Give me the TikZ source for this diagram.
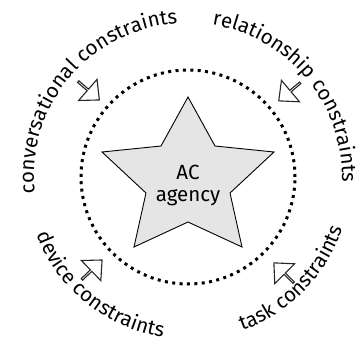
\documentclass[tikz,border=0pt]{standalone}
\usepackage{fontspec}
\setmainfont{Fira Sans}
\usetikzlibrary{decorations.text,shapes.arrows}

\newcommand{\ringfont}{\fontsize{20.5}{22}\selectfont}

\tikzset{
  starbody/.style={draw=black, fill=black!10, line width=0.9pt, line join=miter},
  dotring/.style={circle, draw, line width=3pt, dash pattern=on 3pt off 4.4pt, minimum size=214pt, inner sep=0pt},
  inarrow/.style={single arrow, draw=black!85, fill=white, line width=1.1pt, inner sep=0pt,
    minimum height=28pt, minimum width=28pt, single arrow head extend=7pt, single arrow tip angle=85},
  toptext/.style={decorate, decoration={text along path, text align=center, text={|\ringfont|#1}}},
}

\begin{document}
\begin{tikzpicture}[x=1pt, y=1pt]
  \useasboundingbox (-188,-166) rectangle (175,177);

  % dotted ring round the star
  \node[dotring] (ring) at (0,0) {};

  % the star
  \draw[starbody] (0,80) -- (27,31) -- (86,25) -- (42,-16) -- (54,-70) -- (0,-45)
    -- (-54,-70) -- (-42,-16) -- (-86,25) -- (-27,31) -- cycle;
  \node[font=\ringfont, align=center] (agency) at (0,-8) {AC\\agency};

  % arrows pointing in
  \node[inarrow, rotate=-41] (arrTL) at (139:132pt) {};
  \node[inarrow, rotate=220] (arrTR) at (40:133pt) {};
  \node[inarrow, rotate=44] (arrBL) at (224:134pt) {};
  \node[inarrow, rotate=135] (arrBR) at (315:136pt) {};

  % constraint labels
  \path[toptext=conversational constraints] (200:154pt) arc[start angle=200, end angle=80, radius=154pt];
  \path[toptext=relationship constraints] (100:154pt) arc[start angle=100, end angle=-21, radius=154pt];
  \path[toptext=device constraints] (171:162pt) arc[start angle=171, end angle=291, radius=162pt];
  \path[toptext=task constraints] (255:163pt) arc[start angle=255, end angle=376, radius=163pt];

\end{tikzpicture}
\end{document}
